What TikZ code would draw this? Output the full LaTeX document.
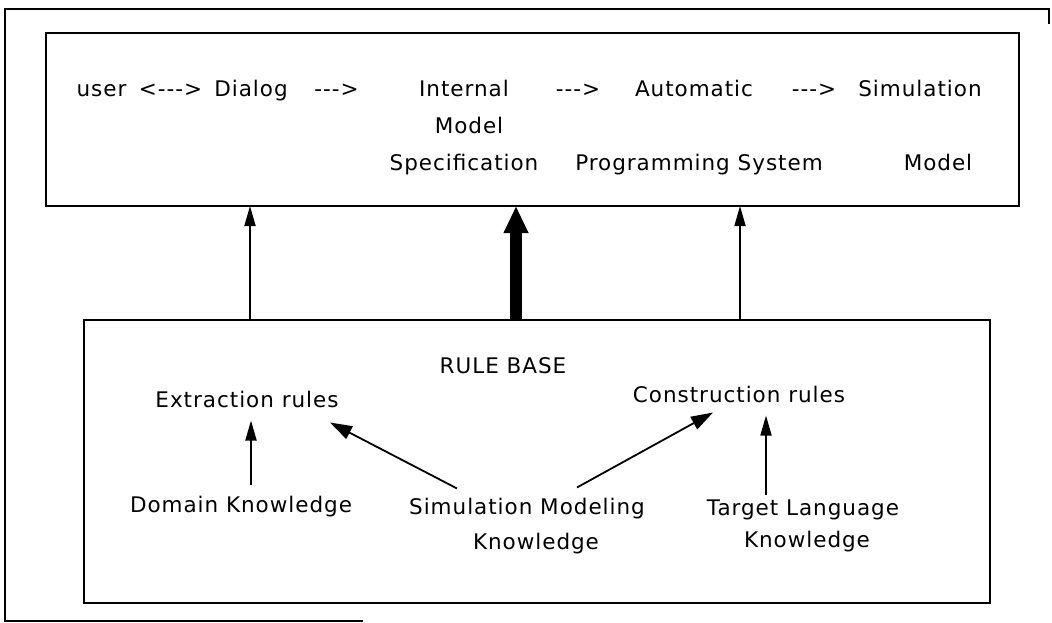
\documentclass[tikz,border=0pt]{standalone}
\usepackage{fontspec}
\setmainfont{DejaVu Sans}[LetterSpace=4.5]
\usetikzlibrary{arrows.meta}
\begin{document}
\begin{tikzpicture}[x=1pt,y=-1pt,
  lbl/.style={inner sep=0pt, anchor=base, font=\fontsize{21.5pt}{25pt}\selectfont},
  panel/.style={draw, line width=2pt, inner sep=0pt, outer sep=0pt},
  arr/.style={line width=1.8pt, -{Triangle[width=11pt,length=20pt]}},
  diagarr/.style={line width=1.8pt, -{Triangle[width=14pt,length=22pt]}},
  bigarr/.style={line width=12pt, -{Triangle[width=23pt,length=27pt]}},
]
\useasboundingbox (0,0) rectangle (1052,623);

% outer frame
\draw[line width=2.5pt] (363,621) -- (5,621) -- (5,9) -- (1049,9) -- (1049,24);

% the two panels
\node[panel, minimum width=973pt, minimum height=173pt] (topbox) at (532.5,119.5) {};
\node[panel, minimum width=906pt, minimum height=283pt] (rb) at (537,461.5) {};

% processing chain
\node[lbl] (user)  at (101.5,97) {user};
\node[lbl] (d1)    at (170.5,97) {<-{}-{}->};
\node[lbl] (dialog) at (251,97) {Dialog};
\node[lbl] (d2)    at (336.5,97) {-{}-{}->};
\node[lbl] (int1)  at (464,97) {Internal};
\node[lbl] (int2)  at (469,134) {Model};
\node[lbl] (int3)  at (464,170) {Specification};
\node[lbl] (d3)    at (578,97) {-{}-{}->};
\node[lbl] (aut1)  at (694,97) {Automatic};
\node[lbl] (aut2)  at (699,170) {Programming System};
\node[lbl] (d4)    at (814,97) {-{}-{}->};
\node[lbl] (sim1)  at (920,97) {Simulation};
\node[lbl] (sim2)  at (938,170) {Model};

% rule base contents
\node[lbl] (rbt)  at (503,373) {RULE BASE};
\node[lbl] (ext)  at (247,407) {Extraction rules};
\node[lbl] (con)  at (739,402) {Construction rules};
\node[lbl] (dom)  at (241,512) {Domain Knowledge};
\node[lbl] (sim)  at (527,514) {Simulation Modeling};
\node[lbl] (simk) at (536,549) {Knowledge};
\node[lbl] (tgt)  at (803,515) {Target Language};
\node[lbl] (tgtk) at (807,547) {Knowledge};

% links from the rule base up to the chain
\coordinate (c1) at (250,0);
\coordinate (c2) at (516,0);
\coordinate (c3) at (740,0);
\draw[arr] (c1 |- rb.north) -- (c1 |- topbox.south);
\draw[bigarr] (c2 |- rb.north) -- (c2 |- topbox.south);
\draw[arr] (c3 |- rb.north) -- (c3 |- topbox.south);

% knowledge feeding the rules
\draw[arr] ([shift={(10,-10)}]dom.north) -- ([shift={(4,13)}]ext.south);
\draw[diagarr] ([shift={(-70,-9)}]sim.north) -- ([shift={(83,15)}]ext.south);
\draw[diagarr] ([shift={(50,-10)}]sim.north) -- ([shift={(-26,10)}]con.south);
\draw[arr] ([shift={(-37,-4)}]tgt.north) -- ([shift={(27,13)}]con.south);
\end{tikzpicture}
\end{document}
